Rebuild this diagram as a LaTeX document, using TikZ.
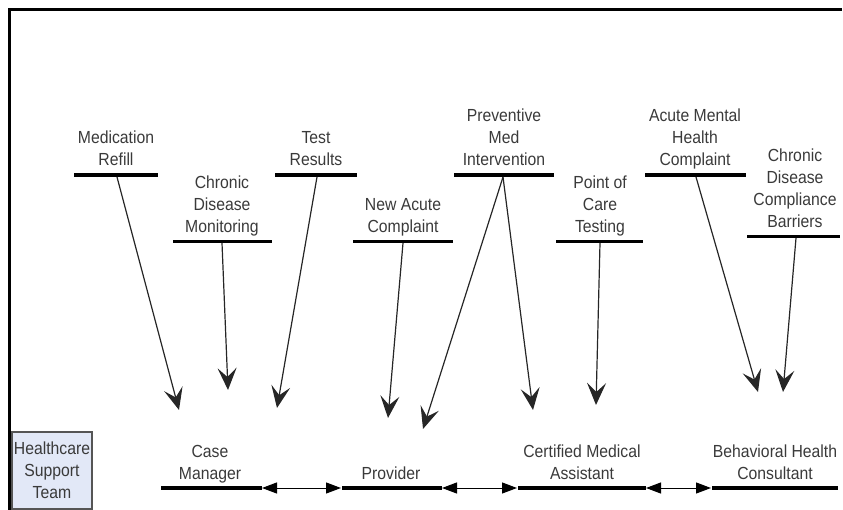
\documentclass[tikz,border=0pt]{standalone}
\usepackage{fontspec}
\setmainfont{Liberation Sans}[FakeStretch=0.9]
\usetikzlibrary{arrows.meta}
\definecolor{txt}{HTML}{3A3A3A}
\definecolor{boxfill}{HTML}{E2E8F7}
\definecolor{boxline}{HTML}{555555}
\begin{document}
\begin{tikzpicture}[x=1pt,y=-1pt,
  lbl/.style={font=\fontsize{17.5}{22}\selectfont, text=txt, align=center, inner sep=0pt, anchor=south},
  bar/.style={line width=3.5pt, black},
  causearrow/.style={line width=1.2pt, black!85, -{Stealth[length=22pt,width=19pt,inset=9pt]}},
  linkarrow/.style={line width=1pt, black, {Triangle[length=15pt,width=11pt]}-{Triangle[length=15pt,width=11pt]}},
  edgeline/.style={line width=3pt, black}]
\useasboundingbox (0,0) rectangle (843,510);
% frame
\draw[edgeline] (9,510) -- (9,9.5) -- (842,9.5);

% cause labels and bars
\node[lbl] (med) at (116,172.6) {Medication\\Refill\strut};
\draw[bar] (74,175) -- (158,175);
\node[lbl] (cdm) at (222,239.3) {Chronic\\Disease\\Monitoring\strut};
\draw[bar] (173,241.7) -- (272,241.7);
\node[lbl] (test) at (316,172.6) {Test\\Results\strut};
\draw[bar] (275,175) -- (357,175);
\node[lbl] (nac) at (403,239.3) {New Acute\\Complaint\strut};
\draw[bar] (353,241.7) -- (453,241.7);
\node[lbl] (pmi) at (504,172.6) {Preventive\\Med\\Intervention\strut};
\draw[bar] (454,175) -- (554,175);
\node[lbl] (poc) at (600,239.3) {Point of\\Care\\Testing\strut};
\draw[bar] (556,241.7) -- (643,241.7);
\node[lbl] (amh) at (695,172.6) {Acute Mental\\Health\\Complaint\strut};
\draw[bar] (645,175) -- (746,175);
\node[lbl] (ccb) at (795,234.3) {Chronic\\Disease\\Compliance\\Barriers\strut};
\draw[bar] (747,236.7) -- (840,236.7);

% role labels and bars
\node[lbl] (cm) at (210,485.8) {Case\\Manager\strut};
\draw[bar] (161,488) -- (262,488);
\node[lbl] (pv) at (391,485.8) {Provider\strut};
\draw[bar] (342,488) -- (442,488);
\node[lbl] (cma) at (582,485.8) {Certified Medical\\Assistant\strut};
\draw[bar] (518,488) -- (646,488);
\node[lbl] (bhc) at (775,485.8) {Behavioral Health\\Consultant\strut};
\draw[bar] (712,488) -- (838,488);

% team box
\node[draw=boxline, fill=boxfill, line width=1.2pt, minimum width=80pt, minimum height=77pt,
      inner sep=0pt, align=center, font=\fontsize{17.5}{22}\selectfont, text=txt] (hst) at (52,470.5)
      {Healthcare\\Support\\Team};

% arrow start points and tips
\coordinate (medS) at (117,177);
\coordinate (medT) at (179,410);
\coordinate (cdmS) at (222,243);
\coordinate (cdmT) at (228,390);
\coordinate (testS) at (317,177);
\coordinate (testT) at (277,408);
\coordinate (nacS) at (403,243);
\coordinate (nacT) at (388,418);
\coordinate (pmiS) at (503,177);
\coordinate (pmiT1) at (423,429);
\coordinate (pmiT2) at (533,410);
\coordinate (pocS) at (600,243);
\coordinate (pocT) at (596,405);
\coordinate (amhS) at (696,177);
\coordinate (amhT) at (758,392);
\coordinate (ccbS) at (796,238);
\coordinate (ccbT) at (783,392);

\draw[causearrow] (medS) -- (medT);
\draw[causearrow] (cdmS) -- (cdmT);
\draw[causearrow] (testS) -- (testT);
\draw[causearrow] (nacS) -- (nacT);
\draw[causearrow] (pmiS) -- (pmiT1);
\draw[causearrow] (pmiS) -- (pmiT2);
\draw[causearrow] (pocS) -- (pocT);
\draw[causearrow] (amhS) -- (amhT);
\draw[causearrow] (ccbS) -- (ccbT);

% links between roles
\coordinate (cmR) at (262,488);
\coordinate (pvL) at (341,488);
\coordinate (pvR) at (442,488);
\coordinate (cmaL) at (517,488);
\coordinate (cmaR) at (646,488);
\coordinate (bhcL) at (711,488);
\draw[linkarrow] (cmR) -- (pvL);
\draw[linkarrow] (pvR) -- (cmaL);
\draw[linkarrow] (cmaR) -- (bhcL);
\end{tikzpicture}
\end{document}
